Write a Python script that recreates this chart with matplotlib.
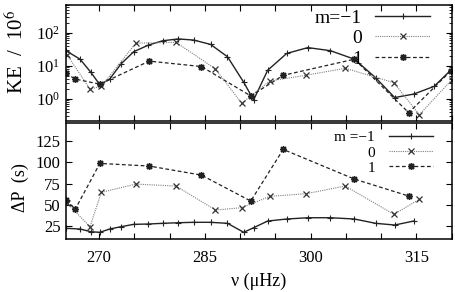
import matplotlib
matplotlib.use("Agg")
import matplotlib.pyplot as plt
import numpy as np

plt.rcParams['font.family'] = ['Liberation Serif', 'DejaVu Serif']
plt.rcParams['mathtext.fontset'] = 'stix'

# frequencies (muHz) and kinetic energies / period spacings
nu_m1 = [265.3, 267.3, 268.8, 270.1, 271.5, 273.1, 274.9, 277.0, 279.0, 281.2,
         283.4, 285.8, 288.2, 290.5, 291.9, 293.9, 296.6, 299.6, 302.8, 306.2,
         309.2, 311.9, 314.6, 317.5, 319.9]
ke_m1 = [29, 16, 6.5, 2.7, 4, 11.5, 27, 43, 58, 66,
         61, 45, 19, 3.2, 0.93, 7.4, 24, 36, 29, 16,
         4.4, 1.1, 1.4, 2.4, 7.6]
dp_m1 = [22.3, 21.5, 18.3, 17.6, 21.5, 24.2, 27, 27.4, 28.2, 28.9,
         29.4, 29.4, 28.2, 17.6, 23, 30.9, 33.3, 34.8, 34.8, 33.3,
         28.2, 26.2, 30.9]

nu_0 = [265.5, 268.7, 270.3, 275.2, 280.9, 286.5, 290.2, 294.2, 299.3, 304.9,
        311.8, 315.4, 320.0]
ke_0 = [21, 2.0, 2.4, 49, 52, 8.1, 0.74, 3.5, 5.2, 8.5, 3.1, 0.33, 3.8]
dp_0 = [51.8, 24.2, 64.7, 74.5, 72.2, 43.9, 46.6, 60, 63.1, 72.2, 38.8, 56.5]

nu_p1 = [265.3, 266.6, 270.1, 277.1, 284.5, 291.5, 296.1, 306.2, 313.9, 319.9]
ke_p1 = [6, 4, 2.8, 14, 9.6, 1.23, 5.2, 16, 0.38, 7.2]
dp_p1 = [56, 44.7, 98.9, 95.8, 85.1, 54.5, 115.4, 80.4, 60.4]

fig = plt.figure(figsize=(4.56, 2.92), dpi=100)
ax1 = fig.add_axes([0.1447, 0.586, 0.846, 0.397])
ax2 = fig.add_axes([0.1447, 0.1815, 0.846, 0.397])

aster = (8, 2, 0)
s1 = dict(color='#222222', lw=1.0, ls='-', marker='+', ms=4, mew=0.8)
s0 = dict(color='#808080', lw=0.8, ls=(0, (1, 1)), marker='x', ms=4, mew=0.9,
          mec='#333333')
sp = dict(color='#222222', lw=0.9, ls=(0, (3, 2)), marker=aster, ms=5, mew=1.0)

ax1.plot(nu_m1, ke_m1, label='m=\u22121', **s1)
ax1.plot(nu_0, ke_0, label='0', **s0)
ax1.plot(nu_p1, ke_p1, label='1', **sp)
ax1.set_yscale('log')
ax1.set_ylim(10**-0.667, 10**2.85)
ax1.set_xlim(265.3, 320)
ax1.set_ylabel('KE  /  10$^6$', fontsize=15)
ax1.yaxis.set_label_coords(-0.098, 0.6)
ax1.set_xticks(np.arange(270, 321, 5))
ax1.set_xticklabels([])
ax1.set_yticks([1, 10, 100])
ax1.legend(loc='upper right', bbox_to_anchor=(0.943, 0.965), frameon=False,
           markerfirst=False, fontsize=14, handlelength=2.8,
           labelspacing=0.15, handletextpad=0.7, borderaxespad=0, borderpad=0)

ax2.plot(nu_m1[:len(dp_m1)], dp_m1, label='m =\u22121', **s1)
ax2.plot(nu_0[:len(dp_0)], dp_0, label='0', **s0)
ax2.plot(nu_p1[:len(dp_p1)], dp_p1, label='1', **sp)
ax2.set_xlim(265.3, 320)
ax2.set_ylim(9.7, 146.5)
ax2.set_yticks([25, 50, 75, 100, 125])
ax2.set_xticks(np.arange(270, 321, 5))
ax2.set_xticklabels([str(t) if t % 15 == 0 else '' for t in range(270, 321, 5)])
ax2.set_ylabel('\u0394P  (s)', fontsize=13)
ax2.yaxis.set_label_coords(-0.097, 0.44)
ax2.set_xlabel('\u03bd (\u03bcHz)', fontsize=13, labelpad=5)
ax2.legend(loc='upper right', bbox_to_anchor=(0.951, 0.935), frameon=False,
           markerfirst=False, fontsize=11, handlelength=2.9,
           labelspacing=0.1, handletextpad=0.9, borderaxespad=0, borderpad=0)

for ax in (ax1, ax2):
    ax.tick_params(which='both', direction='in', top=True, right=True,
                   labelsize=12, pad=4)
    ax.tick_params(which='major', length=4)
    ax.tick_params(which='minor', length=2.5)
    for sp_ in ax.spines.values():
        sp_.set_linewidth(1.1)
ax2.tick_params(axis='x', pad=8)

plt.savefig('out.png', dpi=100)
